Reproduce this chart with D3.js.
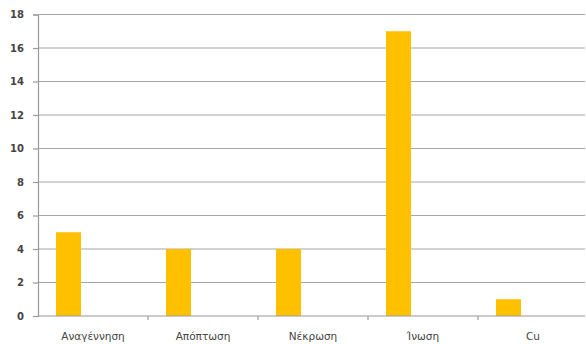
<!DOCTYPE html>
<html>
<head>
<meta charset="utf-8">
<script src="https://cdn.jsdelivr.net/npm/d3@7"></script>
<style>
  html, body { margin: 0; padding: 0; background: #fff; }
  svg { display: block; }
</style>
</head>
<body>
<svg id="chart" width="586" height="344"></svg>
<script>
// Chart data
const categories = ["Αναγέννηση", "Απόπτωση", "Νέκρωση", "Ίνωση", "Cu"];
const values = [5, 4, 4, 17, 1];
const yTicks = [0, 2, 4, 6, 8, 10, 12, 14, 16, 18];

const svg = d3.select("#chart");
const plotLeft = 38, plotRight = 588, plotTop = 14.5, plotBottom = 316;

const x = d3.scaleBand().domain(categories).range([plotLeft, plotRight]);
const y = d3.scaleLinear().domain([0, 18]).range([plotBottom, plotTop]);

const barOffset = 18, barWidth = 25;

// Horizontal gridlines
svg.append("g")
  .selectAll("line")
  .data(yTicks.filter(d => d > 0))
  .join("line")
  .attr("x1", plotLeft).attr("x2", 585)
  .attr("y1", d => y(d)).attr("y2", d => y(d))
  .attr("stroke", "#a6a6a6").attr("stroke-width", 1.2);

// Bars
svg.append("g")
  .selectAll("rect")
  .data(values)
  .join("rect")
  .attr("x", (d, i) => x(categories[i]) + barOffset)
  .attr("width", barWidth)
  .attr("y", d => y(d))
  .attr("height", d => y(0) - y(d))
  .attr("fill", "#ffc000");

// Y axis
const yAxis = d3.axisLeft(y).tickValues(yTicks).tickSize(5).tickPadding(9);
const gy = svg.append("g").attr("transform", `translate(${plotLeft},0)`).call(yAxis);
gy.select(".domain").attr("stroke", "#9a9a9a").attr("stroke-width", 1.2);
gy.selectAll(".tick line").attr("stroke", "#9a9a9a").attr("stroke-width", 1.2);
gy.selectAll(".tick text")
  .attr("font-family", "DejaVu Sans, sans-serif")
  .attr("font-size", 10)
  .attr("font-weight", "bold")
  .attr("fill", "#444");

// X axis baseline and category separators
svg.append("line")
  .attr("x1", plotLeft).attr("x2", 585)
  .attr("y1", plotBottom).attr("y2", plotBottom)
  .attr("stroke", "#9a9a9a").attr("stroke-width", 1.2);

svg.append("g")
  .selectAll("line")
  .data(categories.slice(1))
  .join("line")
  .attr("x1", d => x(d)).attr("x2", d => x(d))
  .attr("y1", plotBottom).attr("y2", plotBottom + 4)
  .attr("stroke", "#9a9a9a").attr("stroke-width", 1.2);

// Category labels
svg.append("g")
  .selectAll("text")
  .data(categories)
  .join("text")
  .attr("x", d => x(d) + x.bandwidth() / 2)
  .attr("y", 340)
  .attr("text-anchor", "middle")
  .attr("font-family", "DejaVu Sans, sans-serif")
  .attr("font-size", 10.5)
  .attr("fill", "#444")
  .text(d => d);
</script>
</body>
</html>
